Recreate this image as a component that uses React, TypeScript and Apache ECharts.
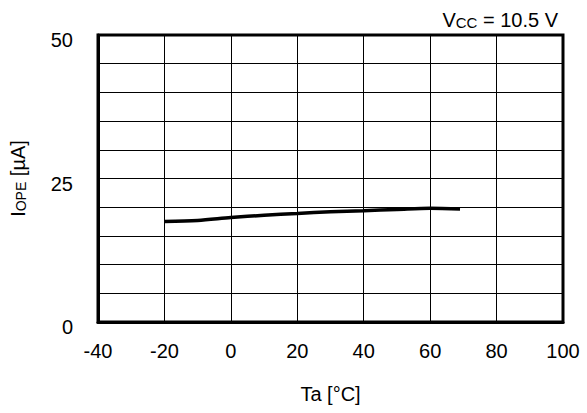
import React, { useEffect, useRef } from "react";
import * as echarts from "echarts";

const temps = [-20, -10, 0, 10, 20, 30, 40, 50, 60, 69];
const currents = [17.5, 17.7, 18.2, 18.6, 18.9, 19.2, 19.4, 19.6, 19.8, 19.7];
const yTickLabels = [0, 25, 50];

export default function App() {
  const ref = useRef<HTMLDivElement>(null);
  useEffect(() => {
    const chart = echarts.init(ref.current!, null, { renderer: "svg" });
    const font = "'Liberation Sans', Arial, sans-serif";
    chart.setOption({
      animation: false,
      textStyle: { fontFamily: font },
      title: {
        text: "{v|V}{s|CC}{v| = 10.5 V}",
        right: 24,
        top: 5,
        textStyle: {
          fontWeight: "normal",
          rich: {
            v: { fontSize: 20, color: "#000", fontFamily: font, fontWeight: "normal" },
            s: { fontSize: 15, color: "#000", fontFamily: font, fontWeight: "normal", padding: [5, 0, 0, 0] },
          },
        },
      },
      grid: {
        left: 96,
        top: 35,
        right: 24,
        bottom: 91,
        show: true,
        borderColor: "#000",
        borderWidth: 3,
        backgroundColor: "transparent",
      },
      xAxis: {
        type: "value",
        min: -40,
        max: 100,
        interval: 20,
        name: "Ta [°C]",
        nameLocation: "middle",
        nameGap: 62,
        nameTextStyle: { fontSize: 20, color: "#000", fontFamily: font },
        axisLine: { show: true, onZero: false, lineStyle: { color: "#000", width: 3 } },
        axisTick: { show: false },
        axisLabel: { fontSize: 20, color: "#000", margin: 19, fontFamily: font },
        splitLine: { show: true, lineStyle: { color: "#000", width: 1 } },
      },
      yAxis: {
        type: "value",
        min: 0,
        max: 50,
        interval: 5,
        name: "{i|I}{s|OPE}{i| [µA]}",
        nameLocation: "middle",
        nameRotate: 90,
        nameGap: 70,
        nameTextStyle: {
          rich: {
            i: { fontSize: 20, color: "#000", fontFamily: font },
            s: { fontSize: 14, color: "#000", fontFamily: font, padding: [5, 0, 0, 0] },
          },
        },
        axisLine: { show: true, onZero: false, lineStyle: { color: "#000", width: 3 } },
        axisTick: { show: false },
        axisLabel: {
          fontSize: 20,
          color: "#000",
          margin: 25,
          fontFamily: font,
          verticalAlign: "top",
          lineHeight: 10,
          formatter: (v: number) => (yTickLabels.includes(v) ? String(v) : ""),
        },
        splitLine: { show: true, lineStyle: { color: "#000", width: 1 } },
      },
      series: [
        {
          type: "line",
          data: temps.map((t, i) => [t, currents[i]]),
          showSymbol: false,
          smooth: 0.3,
          lineStyle: { color: "#000", width: 3.5 },
        },
      ],
    });
    return () => chart.dispose();
  }, []);
  return <div ref={ref} style={{ width: 587, height: 413, position: "absolute", left: 0, top: 0 }} />;
}
